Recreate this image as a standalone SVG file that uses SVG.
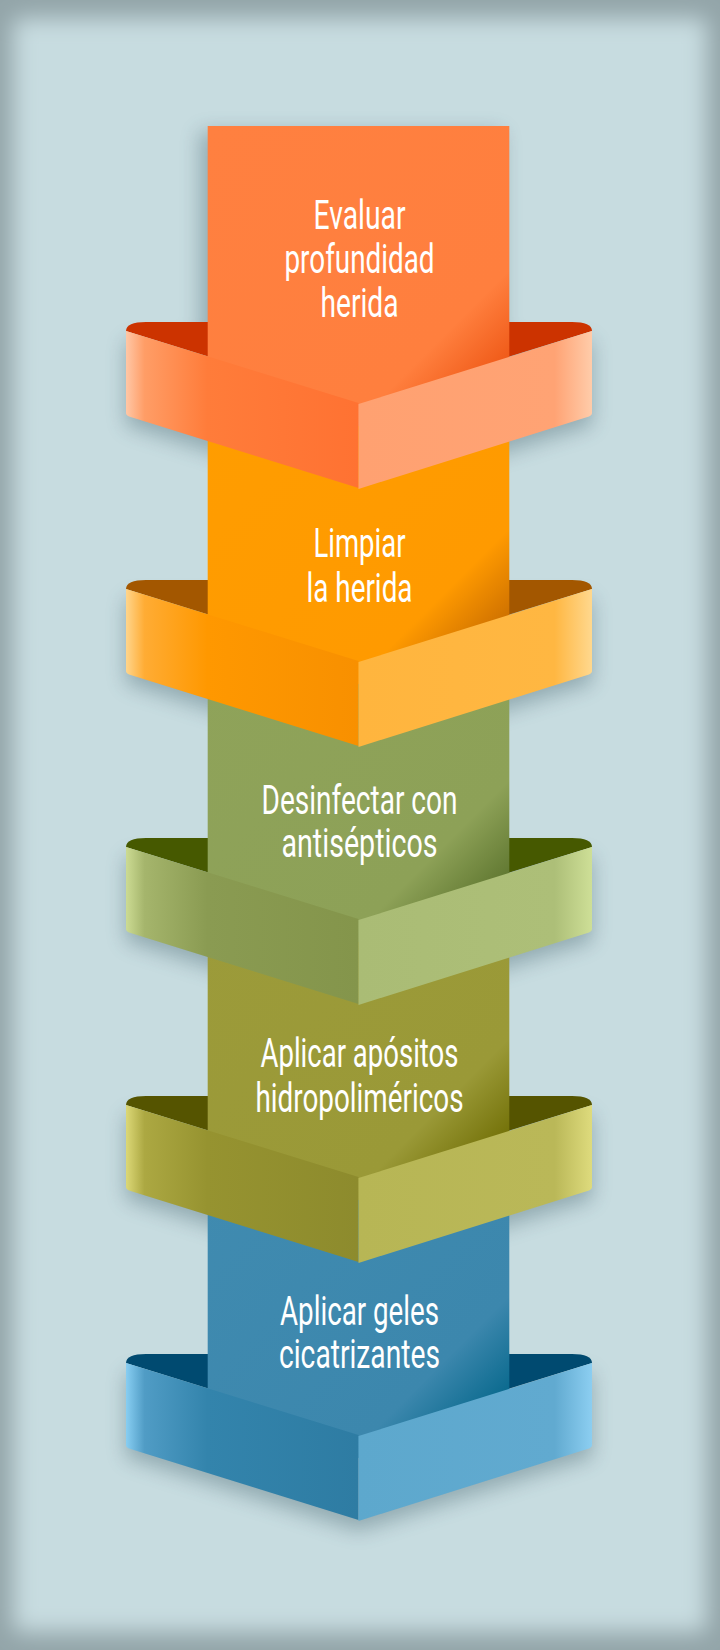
<svg xmlns="http://www.w3.org/2000/svg" width="720" height="1650" viewBox="0 0 720 1650">
<style>
.t{font-family:Roboto,"Liberation Sans",sans-serif;font-size:41px;fill:#FFFFFF;text-anchor:middle;}
</style>
<defs>
<filter id="vig" x="-5%" y="-5%" width="110%" height="110%"><feGaussianBlur stdDeviation="11"/></filter>
<filter id="sh" x="-20%" y="-20%" width="140%" height="140%"><feGaussianBlur stdDeviation="10"/></filter>
<linearGradient id="r1" x1="0" y1="0" x2="1" y2="1"><stop offset="0" stop-color="#FF8040"/><stop offset="0.74" stop-color="#FF7F3E"/><stop offset="0.92" stop-color="#EC5210"/></linearGradient>
<linearGradient id="r2" x1="0" y1="0" x2="1" y2="1"><stop offset="0" stop-color="#FF9D00"/><stop offset="0.74" stop-color="#FF9A00"/><stop offset="0.92" stop-color="#C46800"/></linearGradient>
<linearGradient id="r3" x1="0" y1="0" x2="1" y2="1"><stop offset="0" stop-color="#8FA35A"/><stop offset="0.73" stop-color="#8DA157"/><stop offset="0.92" stop-color="#58702A"/></linearGradient>
<linearGradient id="r4" x1="0" y1="0" x2="1" y2="1"><stop offset="0" stop-color="#9C9B3A"/><stop offset="0.73" stop-color="#9A9937"/><stop offset="0.92" stop-color="#6C6A00"/></linearGradient>
<linearGradient id="r5" x1="0" y1="0" x2="1" y2="1"><stop offset="0" stop-color="#408BB0"/><stop offset="0.73" stop-color="#3C87AD"/><stop offset="0.92" stop-color="#006488"/></linearGradient>
<linearGradient id="l1" x1="0" y1="0" x2="1" y2="0"><stop offset="0" stop-color="#FFC7A6"/><stop offset="0.08" stop-color="#FF9D66"/><stop offset="0.35" stop-color="#FF7C3A"/><stop offset="1" stop-color="#FF7232"/></linearGradient>
<linearGradient id="l2" x1="0" y1="0" x2="1" y2="0"><stop offset="0" stop-color="#FFD58C"/><stop offset="0.08" stop-color="#FFAC34"/><stop offset="0.35" stop-color="#FF9800"/><stop offset="1" stop-color="#F89000"/></linearGradient>
<linearGradient id="l3" x1="0" y1="0" x2="1" y2="0"><stop offset="0" stop-color="#CCDB93"/><stop offset="0.08" stop-color="#A5B56C"/><stop offset="0.35" stop-color="#8A9B52"/><stop offset="1" stop-color="#84954B"/></linearGradient>
<linearGradient id="l4" x1="0" y1="0" x2="1" y2="0"><stop offset="0" stop-color="#DCD877"/><stop offset="0.08" stop-color="#ACA842"/><stop offset="0.35" stop-color="#969330"/><stop offset="1" stop-color="#8D8B2D"/></linearGradient>
<linearGradient id="l5" x1="0" y1="0" x2="1" y2="0"><stop offset="0" stop-color="#88CEF2"/><stop offset="0.08" stop-color="#509CC5"/><stop offset="0.35" stop-color="#3384AC"/><stop offset="1" stop-color="#2E7CA3"/></linearGradient>
<linearGradient id="g1" x1="0" y1="0" x2="1" y2="0"><stop offset="0" stop-color="#FFA171"/><stop offset="0.84" stop-color="#FFA374"/><stop offset="1" stop-color="#FFCCAA"/></linearGradient>
<linearGradient id="g2" x1="0" y1="0" x2="1" y2="0"><stop offset="0" stop-color="#FFB53E"/><stop offset="0.84" stop-color="#FFB742"/><stop offset="1" stop-color="#FFD88E"/></linearGradient>
<linearGradient id="g3" x1="0" y1="0" x2="1" y2="0"><stop offset="0" stop-color="#AABC75"/><stop offset="0.84" stop-color="#ADBF78"/><stop offset="1" stop-color="#CEDF97"/></linearGradient>
<linearGradient id="g4" x1="0" y1="0" x2="1" y2="0"><stop offset="0" stop-color="#B7B655"/><stop offset="0.84" stop-color="#BAB858"/><stop offset="1" stop-color="#DEDB7D"/></linearGradient>
<linearGradient id="g5" x1="0" y1="0" x2="1" y2="0"><stop offset="0" stop-color="#5DA8CD"/><stop offset="0.84" stop-color="#61AAD0"/><stop offset="1" stop-color="#8CCEF1"/></linearGradient>
<path id="back" d="M126,331 C126,325 133,322 146,322 L572,322 C585,322 592,325 592,331 L358.5,403 Z"/>
<path id="fl" d="M126,331 L358.5,403 L358.5,488 L129,416.5 C127,415.5 126,414.5 126,413 Z"/>
<path id="fr" d="M358.5,404 L592,331 L592,413 C592,414.5 591,415.5 589,416.5 L358.5,489 Z"/>
<path id="sil" d="M126,331 L592,331 L592,415 L358.5,489 L126,415 Z"/>
</defs>

<g id="background">
<rect width="720" height="1650" fill="#93A5A9"/>
<rect x="13" y="18" width="694" height="1614" rx="8" fill="#C7DCE0" filter="url(#vig)"/>
</g>

<g id="shadows" filter="url(#sh)" fill="#35525E" opacity="0.36">
<rect x="200" y="132" width="302" height="250"/>
<use href="#sil" transform="translate(0,10)"/>
<use href="#sil" transform="translate(0,268)"/>
<use href="#sil" transform="translate(0,526)"/>
<use href="#sil" transform="translate(0,784)"/>
<use href="#sil" transform="translate(0,1042)"/>
</g>

<g id="backs">
<use href="#back" fill="#CC3300"/>
<use href="#back" fill="#A35700" transform="translate(0,258)"/>
<use href="#back" fill="#465900" transform="translate(0,516)"/>
<use href="#back" fill="#555400" transform="translate(0,774)"/>
<use href="#back" fill="#004A70" transform="translate(0,1032)"/>
</g>

<g id="step5">
<rect x="207.7" y="1158" width="301.6" height="300" fill="url(#r5)"/>
<text class="t" x="359.5" y="1325" textLength="159" lengthAdjust="spacingAndGlyphs">Aplicar geles</text>
<text class="t" x="359.5" y="1368.3" textLength="161" lengthAdjust="spacingAndGlyphs">cicatrizantes</text>
</g>
<g id="step4">
<rect x="207.7" y="900" width="301.6" height="300" fill="url(#r4)"/>
<text class="t" x="359.5" y="1067.3" textLength="198" lengthAdjust="spacingAndGlyphs">Aplicar apósitos</text>
<text class="t" x="359.5" y="1111.7" textLength="208" lengthAdjust="spacingAndGlyphs">hidropoliméricos</text>
</g>
<g id="step3">
<rect x="207.7" y="642" width="301.6" height="300" fill="url(#r3)"/>
<text class="t" x="359.5" y="814" textLength="196" lengthAdjust="spacingAndGlyphs">Desinfectar con</text>
<text class="t" x="359.5" y="857.3" textLength="156" lengthAdjust="spacingAndGlyphs">antisépticos</text>
</g>
<g id="step2">
<rect x="207.7" y="384" width="301.6" height="300" fill="url(#r2)"/>
<text class="t" x="359.5" y="557.3" textLength="92" lengthAdjust="spacingAndGlyphs">Limpiar</text>
<text class="t" x="359.5" y="601.7" textLength="106" lengthAdjust="spacingAndGlyphs">la herida</text>
</g>
<g id="step1">
<rect x="207.7" y="126" width="301.6" height="300" fill="url(#r1)"/>
<text class="t" x="359.5" y="229.3" textLength="92" lengthAdjust="spacingAndGlyphs">Evaluar</text>
<text class="t" x="359.5" y="273.3" textLength="150" lengthAdjust="spacingAndGlyphs">profundidad</text>
<text class="t" x="359.5" y="317.3" textLength="78" lengthAdjust="spacingAndGlyphs">herida</text>
</g>

<g id="ribbons">
<g id="ribbon1"><use href="#fl" fill="url(#l1)"/><use href="#fr" fill="url(#g1)"/></g>
<g id="ribbon2" transform="translate(0,258)"><use href="#fl" fill="url(#l2)"/><use href="#fr" fill="url(#g2)"/></g>
<g id="ribbon3" transform="translate(0,516)"><use href="#fl" fill="url(#l3)"/><use href="#fr" fill="url(#g3)"/></g>
<g id="ribbon4" transform="translate(0,774)"><use href="#fl" fill="url(#l4)"/><use href="#fr" fill="url(#g4)"/></g>
<g id="ribbon5" transform="translate(0,1032)"><use href="#fl" fill="url(#l5)"/><use href="#fr" fill="url(#g5)"/></g>
</g>
</svg>
